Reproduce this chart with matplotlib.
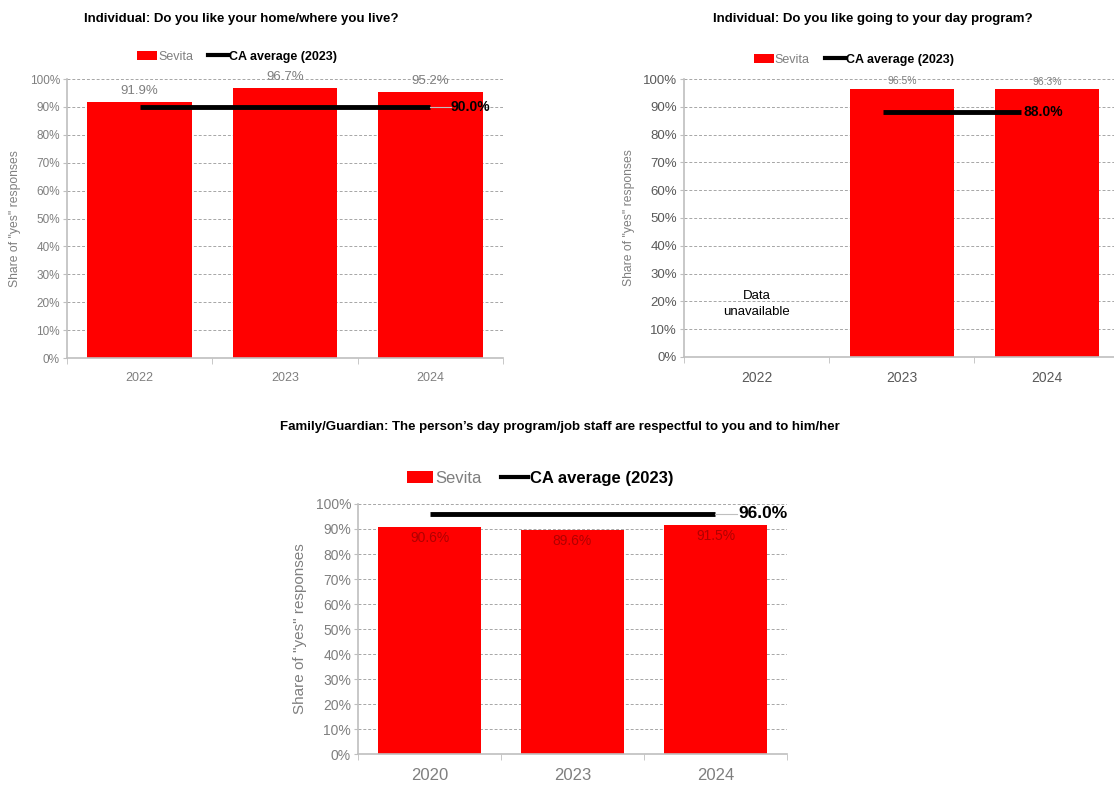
import matplotlib
matplotlib.use("Agg")
import matplotlib.pyplot as plt
from matplotlib.patches import Patch
from matplotlib.lines import Line2D
from matplotlib.ticker import FixedLocator, PercentFormatter
import numpy as np

plt.rcParams['font.family'] = ['Liberation Sans Narrow', 'Liberation Sans', 'DejaVu Sans']

# ---- data ----
title1 = "Individual: Do you like your home/where you live?"
years1 = ["2022", "2023", "2024"]
sevita1 = [91.9, 96.7, 95.2]
ca1 = 90.0

title2 = "Individual: Do you like going to your day program?"
years2 = ["2022", "2023", "2024"]
sevita2 = [None, 96.5, 96.3]
ca2 = 88.0

title3 = "Family/Guardian: The person\u2019s day program/job staff are respectful to you and to him/her"
years3 = ["2020", "2023", "2024"]
sevita3 = [90.6, 89.6, 91.5]
ca3 = 96.0

RED = "#ff0000"
GRAY = "#7f7f7f"

fig = plt.figure(figsize=(11.14, 7.87), dpi=100)

def style_axes(ax, cats, xfs, yfs, lfs, lpad, tcol=GRAY):
    n = len(cats)
    ax.set_xlim(-0.5, n - 0.5)
    ax.set_ylim(0, 100)
    ax.set_yticks(np.arange(0, 101, 10))
    ax.yaxis.set_major_formatter(PercentFormatter(decimals=0))
    ax.set_xticks(range(n))
    ax.set_xticklabels(cats)
    ax.xaxis.set_minor_locator(FixedLocator(np.arange(-0.5, n, 1.0)))
    ax.tick_params(axis='x', which='major', length=0, labelsize=xfs, labelcolor=tcol, pad=10)
    ax.tick_params(axis='x', which='minor', length=4, color='#bfbfbf', direction='out')
    ax.tick_params(axis='y', length=3, color='#bfbfbf', labelsize=yfs, labelcolor=tcol, pad=2)
    ax.grid(axis='y', color='#a6a6a6', linestyle=(0, (3, 2)), linewidth=0.7)
    ax.set_axisbelow(True)
    for s in ['top', 'right']:
        ax.spines[s].set_visible(False)
    for s in ['left', 'bottom']:
        ax.spines[s].set_color('#bfbfbf')
        ax.spines[s].set_linewidth(1.2)
    ax.set_ylabel('Share of "yes" responses', color=GRAY, fontsize=lfs, labelpad=lpad)

def legend(ax, fs, xc, y):
    handles = [Patch(facecolor=RED, edgecolor='none'),
               Line2D([0], [0], color='black', lw=3)]
    leg = ax.legend(handles, ["Sevita", "CA average (2023)"], loc='lower center',
                    bbox_to_anchor=(xc, y), ncol=2, frameon=False, fontsize=fs,
                    handlelength=1.6, handletextpad=0.1, columnspacing=1.2,
                    borderaxespad=0)
    t = leg.get_texts()
    t[0].set_color(GRAY)
    t[1].set_fontweight('bold')
    t[1].set_color('black')

# ---- chart 1 ----
ax1 = fig.add_axes([0.060, 0.5451, 0.3915, 0.3545])
x = np.arange(len(years1))
ax1.bar(x, sevita1, width=0.72, color=RED)
for xi, v in zip(x, sevita1):
    ax1.text(xi, v + 1.8, f"{v:.1f}%", ha='center', va='bottom', color=GRAY, fontsize=9.5)
ax1.plot([x[0], x[-1]], [ca1, ca1], color='black', lw=3.5, solid_capstyle='butt')
ax1.plot([x[-1], x[-1] + 0.14], [ca1, ca1], color='#bfbfbf', lw=0.8)
ax1.text(x[-1] + 0.14, ca1, f"{ca1:.1f}%", ha='left', va='center', fontsize=10,
         fontweight='bold', color='black')
style_axes(ax1, years1, 9, 8.5, 8.7, 6)
ax1.set_title(title1, fontsize=9.5, fontweight='bold', pad=41, x=0.40)
legend(ax1, 9, 0.39, 1.04)

# ---- chart 2 ----
ax2 = fig.add_axes([0.614, 0.5464, 0.391, 0.3532])
x = np.arange(len(years2))
for xi, v in zip(x, sevita2):
    if v is None:
        ax2.text(xi, 19, "Data\nunavailable", ha='center', va='center', fontsize=9.5,
                 color='black', linespacing=1.4)
    else:
        ax2.bar(xi, v, width=0.72, color=RED)
        ax2.text(xi, v + 1.0, f"{v:.1f}%", ha='center', va='bottom', color=GRAY, fontsize=7.5)
ax2.plot([0.87, 1.82], [ca2, ca2], color='black', lw=3.5, solid_capstyle='butt')
ax2.text(1.84, ca2, f"{ca2:.1f}%", ha='left', va='center', fontsize=10,
         fontweight='bold', color='black')
style_axes(ax2, years2, 10, 9.5, 8.7, 6, tcol='#595959')
ax2.set_title(title2, fontsize=9.5, fontweight='bold', pad=41, x=0.434)
legend(ax2, 9, 0.39, 1.03)

# ---- chart 3 ----
ax3 = fig.add_axes([0.3214, 0.0419, 0.385, 0.3177])
x = np.arange(len(years3))
ax3.bar(x, sevita3, width=0.72, color=RED)
for xi, v in zip(x, sevita3):
    ax3.text(xi, v - 1.5, f"{v:.1f}%", ha='center', va='top', color='#b00000', fontsize=10)
ax3.plot([x[0], x[-1]], [ca3, ca3], color='black', lw=3.5, solid_capstyle='butt')
ax3.plot([x[-1], x[-1] + 0.15], [ca3, ca3], color='#bfbfbf', lw=0.8)
ax3.text(x[-1] + 0.16, ca3, f"{ca3:.1f}%", ha='left', va='center', fontsize=12.5,
         fontweight='bold', color='black')
style_axes(ax3, years3, 12, 10, 11, 6)
ax3.set_title(title3, fontsize=9.5, fontweight='bold', pad=53, x=0.47)
legend(ax3, 12, 0.424, 1.045)

fig.savefig("out.png", dpi=100)
